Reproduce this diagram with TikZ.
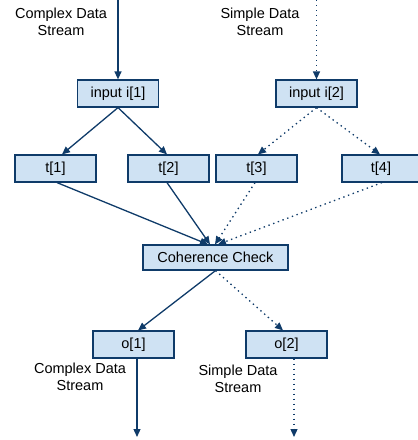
\documentclass[tikz,border=0pt]{standalone}
\usepackage{fontspec}
\setmainfont{Liberation Sans}
\usetikzlibrary{arrows.meta}
\definecolor{boxfill}{HTML}{CFE2F3}
\definecolor{navy}{HTML}{0F3B69}
\begin{document}
\begin{tikzpicture}[x=1pt,y=-1pt,
  box/.style={draw=navy,line width=1.2pt,fill=boxfill,minimum width=81pt,minimum height=27pt,
    inner sep=0pt,font=\fontsize{14.5}{16}\selectfont},
  wide/.style={box,minimum width=145pt,minimum height=25pt},
  flow/.style={navy,line width=1.3pt,-{Triangle[length=8pt,width=7pt]}},
  dotflow/.style={flow,dash pattern=on 1.4pt off 3.6pt},
  lbl/.style={align=center,font=\fontsize{14.5}{17}\selectfont,inner sep=0pt}]
\useasboundingbox (0,0) rectangle (418,440);
% input boxes
\node[box] (i1) at (118,93.5) {input i[1]};
\node[box] (i2) at (316.5,93.5) {input i[2]};
% transformation boxes
\node[box] (t1) at (55.5,168.5) {t[1]};
\node[box] (t2) at (168.5,168.5) {t[2]};
\node[box] (t3) at (256.5,168.5) {t[3]};
\node[box,minimum width=78pt] (t4) at (381,168.5) {t[4]};
% check and outputs
\node[wide] (cc) at (215.5,257.5) {Coherence Check};
\node[box] (o1) at (133.5,344.5) {o[1]};
\node[box] (o2) at (286.5,344.5) {o[2]};
% stream labels
\node[lbl] (l1) at (61,22) {Complex Data\\Stream};
\node[lbl] (l2) at (260,22) {Simple Data\\Stream};
\node[lbl] (l3) at (80,377) {Complex Data\\Stream};
\node[lbl] (l4) at (238,379) {Simple Data\\Stream};
% stream ends
\coordinate (s1) at (118,0);
\coordinate (s2) at (316.5,0);
\coordinate (e1) at (137,437);
\coordinate (e2) at (294,437);
% incoming streams
\draw[flow] (s1) -- (i1.north);
\draw[dotflow] (s2) -- (i2.north);
% fan-out to transformations
\draw[flow] (i1.south) -- ([xshift=6.5pt]t1.north);
\draw[flow] (i1.south) -- ([xshift=-1.5pt]t2.north);
\draw[dotflow] (i2.south) -- ([xshift=1.5pt]t3.north);
\draw[dotflow] (i2.south) -- ([xshift=-1pt]t4.north);
% into the coherence check
\draw[flow] ([xshift=1.5pt]t1.south) -- ([xshift=-7.5pt]cc.north);
\draw[flow] ([xshift=-1.5pt]t2.south) -- ([xshift=-5.5pt]cc.north);
\draw[dotflow] ([xshift=-1.5pt]t3.south) -- ([xshift=-0.5pt]cc.north);
\draw[dotflow] ([xshift=1pt]t4.south) -- ([xshift=2.5pt]cc.north);
% out to the outputs
\draw[flow] (cc.south) -- ([xshift=4.5pt]o1.north);
\draw[dotflow] (cc.south) -- ([xshift=-3.5pt]o2.north);
% outgoing streams
\draw[flow] ([xshift=3.5pt]o1.south) -- (e1);
\draw[dotflow] ([xshift=7.5pt]o2.south) -- (e2);
\end{tikzpicture}
\end{document}
